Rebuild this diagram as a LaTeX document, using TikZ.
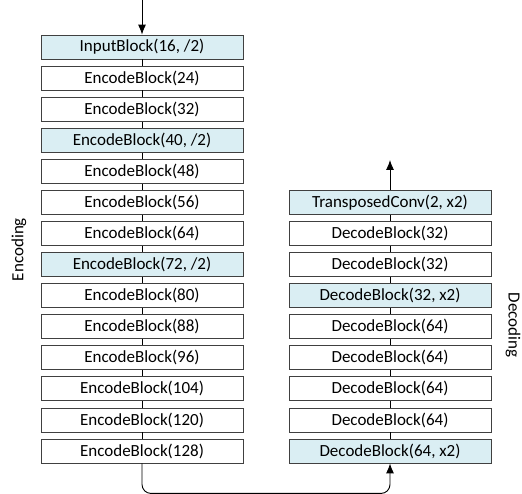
\documentclass[tikz,border=0pt]{standalone}
\usepackage{fontspec}
\setmainfont{Carlito}
\usetikzlibrary{arrows.meta}
\definecolor{hl}{HTML}{DAEEF3}
\definecolor{bd}{HTML}{404040}
\begin{document}
\begin{tikzpicture}[x=1bp,y=-1bp,
  blk/.style={draw=bd,line width=0.8bp,minimum width=202bp,minimum height=24bp,inner sep=0pt,font=\fontsize{17bp}{18bp}\selectfont,fill=white},
  hblk/.style={blk,fill=hl},
  conn/.style={draw=black,line width=0.9bp},
  arr/.style={conn,-{Latex[length=10bp,width=8bp]}},
  lbl/.style={font=\fontsize{17bp}{18bp}\selectfont}]
\useasboundingbox (0,0) rectangle (522,494);
% encoder
\foreach \t/\s [count=\i from 0] in {{InputBlock(16, /2)}/hblk,{EncodeBlock(24)}/blk,{EncodeBlock(32)}/blk,{EncodeBlock(40, /2)}/hblk,{EncodeBlock(48)}/blk,{EncodeBlock(56)}/blk,{EncodeBlock(64)}/blk,{EncodeBlock(72, /2)}/hblk,{EncodeBlock(80)}/blk,{EncodeBlock(88)}/blk,{EncodeBlock(96)}/blk,{EncodeBlock(104)}/blk,{EncodeBlock(120)}/blk,{EncodeBlock(128)}/blk}
  \node[\s] (e\i) at (142,{47+31.08*\i}) {\t};
\foreach \t/\s [count=\i from 0] in {{TransposedConv(2, x2)}/hblk,{DecodeBlock(32)}/blk,{DecodeBlock(32)}/blk,{DecodeBlock(32, x2)}/hblk,{DecodeBlock(64)}/blk,{DecodeBlock(64)}/blk,{DecodeBlock(64)}/blk,{DecodeBlock(64)}/blk,{DecodeBlock(64, x2)}/hblk}
  \node[\s] (d\i) at (390,{202.4+31.08*\i}) {\t};
\foreach \i [evaluate=\i as \j using int(\i+1)] in {0,...,12}
  \draw[conn] (e\i.south) -- (e\j.north);
\foreach \i [evaluate=\i as \j using int(\i+1)] in {0,...,7}
  \draw[conn] (d\i.south) -- (d\j.north);
\coordinate (in) at (142,0);
\coordinate (out) at (390,160);
\draw[arr] (in) -- (e0.north);
\draw[arr] (d0.north) -- (out);
\draw[arr,rounded corners=9bp] (e13.south) -- ++(0,30) -| (d8.south);
\node[lbl,rotate=90] (enc) at (19,249.5) {Encoding};
\node[lbl,rotate=-90] (dec) at (513,325) {Decoding};
\end{tikzpicture}
\end{document}
